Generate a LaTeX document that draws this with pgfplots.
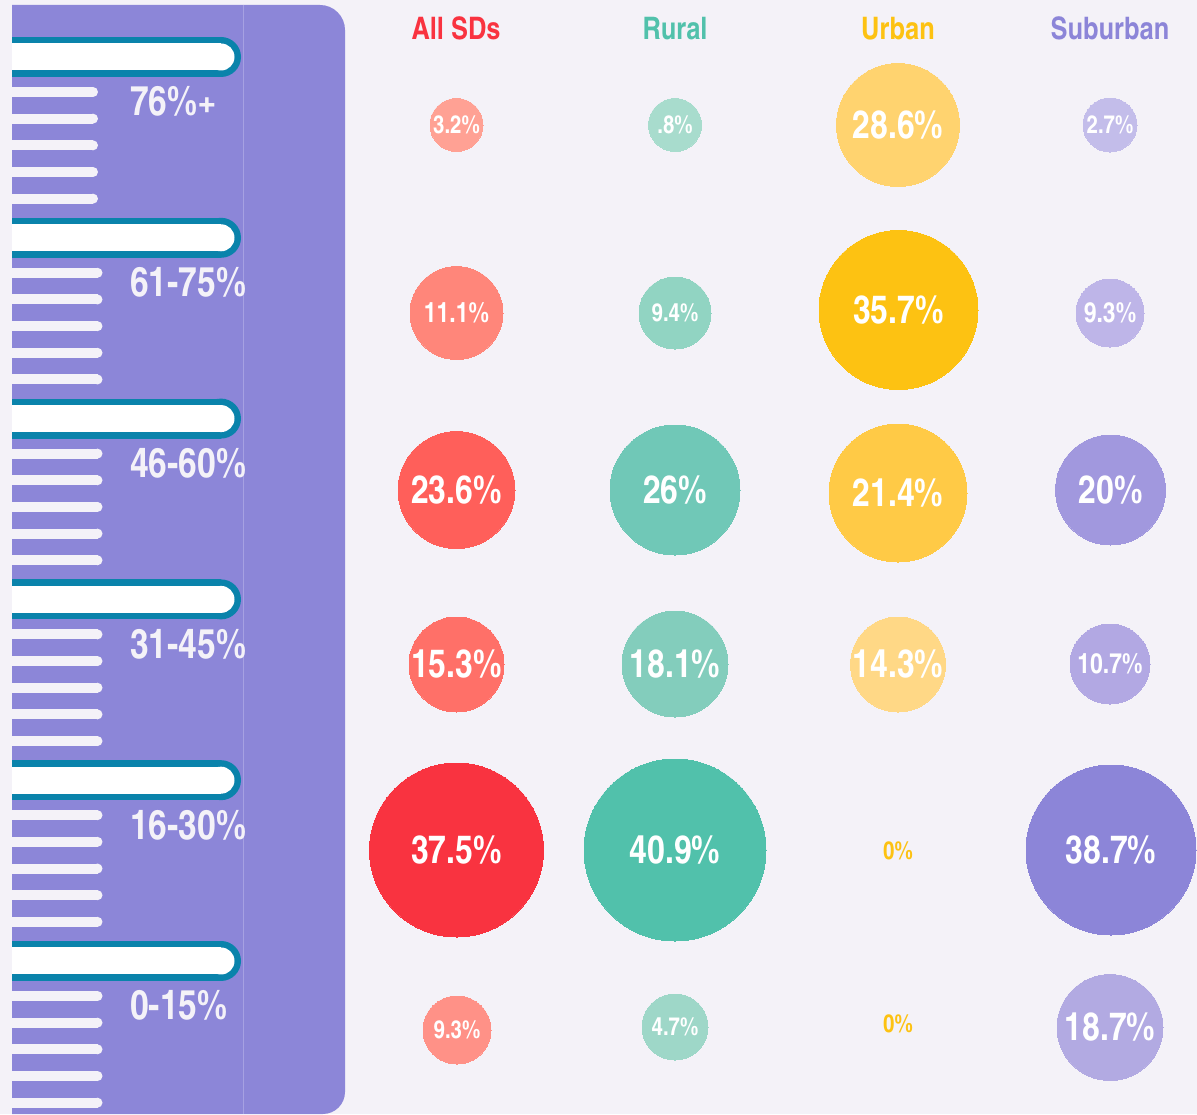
\documentclass[border=0pt]{standalone}
\usepackage{fontspec}
\setmainfont{texgyreheroscn}[Extension=.otf, UprightFont=*-regular, BoldFont=*-bold]
\usepackage{pgfplots}
\pgfplotsset{compat=1.18}
\usepackage{pgfplotstable}

\definecolor{bg}{HTML}{F4F2F8}
\definecolor{panel}{HTML}{8C86D8}
\definecolor{panelline}{HTML}{A6A1E2}
\definecolor{tealb}{HTML}{0A83AB}
\definecolor{cRed}{HTML}{F93340}
\definecolor{cGreen}{HTML}{51C1AB}
\definecolor{cYellow}{HTML}{FDC212}
\definecolor{cPurple}{HTML}{8C85D8}
% bubble colours, addressed by the idx column
\definecolor{bub0}{HTML}{FFA194}\definecolor{bub1}{HTML}{FF867A}\definecolor{bub2}{HTML}{FF5F5A}
\definecolor{bub3}{HTML}{FF7068}\definecolor{bub4}{HTML}{F93340}\definecolor{bub5}{HTML}{FF9187}
\definecolor{bub6}{HTML}{A8DCCD}\definecolor{bub7}{HTML}{91D4C2}\definecolor{bub8}{HTML}{70C8B7}
\definecolor{bub9}{HTML}{83CDBC}\definecolor{bub10}{HTML}{51C1AB}\definecolor{bub11}{HTML}{9ED7C8}
\definecolor{bub12}{HTML}{FFD36F}\definecolor{bub13}{HTML}{FDC212}\definecolor{bub14}{HTML}{FFCA46}
\definecolor{bub15}{HTML}{FFD886}
\definecolor{bub16}{HTML}{C3BDEA}\definecolor{bub17}{HTML}{BEB5E8}\definecolor{bub18}{HTML}{A198DE}
\definecolor{bub19}{HTML}{B2A8E3}\definecolor{bub20}{HTML}{8C85D8}\definecolor{bub21}{HTML}{B2AAE2}

\pgfplotstableread{
x y r fs pct idx
456.5 125 26.5 25 3.2 0
456.5 313 46.5 28 11.1 1
456.5 490 58.5 39 23.6 2
456.5 664.5 47.5 39 15.3 3
456.5 850 87 39 37.5 4
457 1030 34 25 9.3 5
}\allsds
\pgfplotstableread{
x y r fs pct idx
675 125 26.5 25 0.8 6
675 313 36 25 9.4 7
675 490 65 39 26 8
675 664 53 39 18.1 9
675 850 91 39 40.9 10
675 1027 33 25 4.7 11
}\rural
\pgfplotstableread{
x y r fs pct idx
898 125 61.5 39 28.6 12
898.5 310 79.5 39 35.7 13
898 493 69 39 21.4 14
898 664.5 47.5 39 14.3 15
}\urban
\pgfplotstableread{
x y pct
898 851 0
898 1024 0
}\urbanzero
\pgfplotstableread{
x y r fs pct idx
1110 125 27 25 2.7 16
1110 313 34 28 9.3 17
1110.5 490 55 39 20 18
1110 664 40 28 10.7 19
1111 850 85 39 38.7 20
1110 1027.5 53 39 18.7 21
}\suburban

\pgfplotsset{
  bubble/.style={
    scatter, only marks, mark=*,
    visualization depends on={\thisrow{r}\as\bubR},
    visualization depends on={\thisrow{idx}\as\bubI},
    scatter/@pre marker code/.code={%
      \pgfmathtruncatemacro\bubCI{\bubI}%
      \scope[mark size=\bubR, fill=bub\bubCI, draw=bub\bubCI, line width=0pt]%
    },
    scatter/@post marker code/.code={\endscope},
  },
  bublabel/.style={
    only marks, mark=none,
    visualization depends on={\thisrow{fs}\as\bubF},
    visualization depends on={\thisrow{pct}\as\bubL},
    nodes near coords={\pgfmathprintnumber[fixed, precision=1, skip 0., assume math mode=true]{\bubL}\%},
    nodes near coords style={anchor=center, inner sep=0pt, text=white,
      font=\fontsize{\bubF}{\bubF}\selectfont\bfseries},
  },
}

\begin{document}
\begin{tikzpicture}
\begin{axis}[name=ax, width=1197pt, height=1114pt, scale only axis,
  xmin=0, xmax=1197, ymin=0, ymax=1114, y dir=reverse,
  hide axis, clip=false]
  \fill[bg] (axis cs:0,0) rectangle (axis cs:1197,1114);
  \addplot[bubble] table {\allsds};
  \addplot[bubble] table {\rural};
  \addplot[bubble] table {\urban};
  \addplot[bubble] table {\suburban};
  \addplot[bublabel] table {\allsds};
  \addplot[bublabel] table {\rural};
  \addplot[bublabel] table {\urban};
  \addplot[bublabel] table {\suburban};
  \addplot[only marks, mark=none,
    nodes near coords={0\%},
    nodes near coords style={anchor=center, inner sep=0pt, text=cYellow,
      font=\fontsize{25}{25}\selectfont\bfseries}] table {\urbanzero};
\end{axis}
\begin{scope}[shift={(ax.north west)}, x=1pt, y=-1pt]
  \fill[panel] (12,5) -- (320,5) .. controls (333.8,5) and (345,16.2) .. (345,30)
     -- (345,1092) .. controls (345,1104.1) and (335.1,1114) .. (323,1114)
     -- (12,1114) -- cycle;
  \draw[panelline, line width=1pt] (243.5,5) -- (243.5,1114);
  \foreach \B/\e/\lab in {57/93/76\%+, 237.8/97.5/61-75\%, 418.6/97.5/46-60\%,
      599.4/97.5/31-45\%, 780.2/97.5/16-30\%, 961/97.5/0-15\%}{
    \draw[tealb, line width=40pt] (12,\B) -- (221,\B);
    \fill[tealb] (221,\B) circle[radius=20pt];
    \draw[white, line width=27pt] (12,\B) -- (221,\B);
    \fill[white] (221,\B) circle[radius=13.5pt];
    \foreach \j in {0,...,4}{
      \pgfmathsetmacro\yy{\B+35+26.67*\j}
      \draw[bg, line width=10pt] (12,\yy) -- (\e,\yy);
      \fill[bg] (\e,\yy) circle[radius=5pt];
    }
    \node[anchor=base west, inner sep=0pt, text=bg,
      font=\fontsize{41}{41}\selectfont\bfseries] at (130,\B+59) {\lab};
  }
  \foreach \xx/\t/\c in {456/All SDs/cRed, 675/Rural/cGreen, 898/Urban/cYellow, 1110/Suburban/cPurple}{
    \node[anchor=base, inner sep=0pt, text=\c,
      font=\fontsize{31}{31}\selectfont\bfseries] at (\xx,40) {\t};
  }
\end{scope}
\pgfresetboundingbox
\useasboundingbox (ax.south west) rectangle (ax.north east);
\end{tikzpicture}
\end{document}
